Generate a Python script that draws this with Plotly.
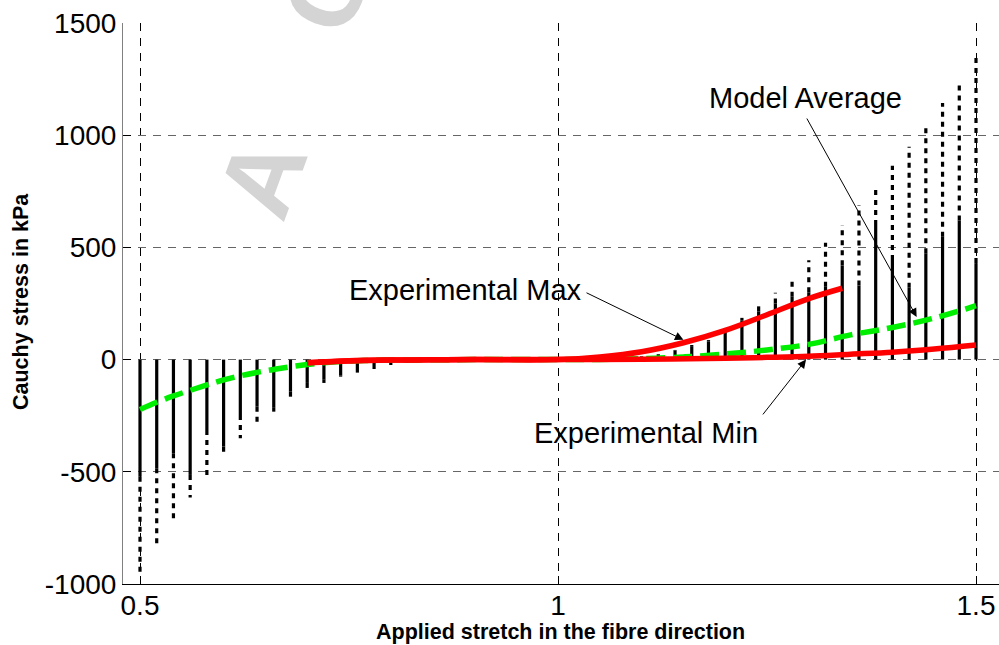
import plotly.graph_objects as go

# Applied fibre stretch at which the model population was sampled
stretch = [0.50, 0.52, 0.54, 0.56, 0.58, 0.60, 0.62, 0.64, 0.66, 0.68,
           0.70, 0.72, 0.74, 0.76, 0.78, 0.80, 0.82, 0.84, 0.86, 0.88,
           0.90, 0.92, 0.94, 0.96, 0.98, 1.00, 1.02, 1.04, 1.06, 1.08,
           1.10, 1.12, 1.14, 1.16, 1.18, 1.20, 1.22, 1.24, 1.26, 1.28,
           1.30, 1.32, 1.34, 1.36, 1.38, 1.40, 1.42, 1.44, 1.46, 1.48, 1.50]

# Edge of the densely populated part of each stress column (kPa)
stress_dense = [-522, -484, -417, -514, -314, -388, -247, -210, -215, -143,
                -104, -90, -70, -58, -42, -24, -13, -7, -4, -2,
                -1, -1, -0.5, -0.3, -0.1, 0, 1, 2, 4, 8,
                14, 22, 40, 60, 80, 125, 175, 215, 250, 280,
                300, 325, 420, 330, 600, 444, 320, 474, 548, 620, 430]

# Extreme model stress reached at each stretch (kPa)
stress_extreme = [-950, -831, -718, -615, -519, -433, -350, -291, -232, -183,
                  -143, -104, -76, -58, -42, -24, -13, -7, -4, -2,
                  -1, -1, -0.5, -0.3, -0.1, 0, 1, 2, 4, 8,
                  15, 25, 43, 65, 87, 141, 186, 238, 298, 368,
                  443, 521, 600, 689, 771, 864, 949, 1040, 1143, 1238, 1350]

# Model average curve
avg_stretch = [0.50, 0.52, 0.54, 0.56, 0.58, 0.60, 0.62, 0.64, 0.66, 0.68,
               0.70, 0.72, 0.74, 0.76, 0.78, 0.80, 0.85, 0.90, 1.00, 1.05,
               1.10, 1.15, 1.20, 1.25, 1.30, 1.35, 1.40, 1.45, 1.50]
avg_stress = [-222, -190, -162, -137, -113, -90, -72, -57, -44, -32,
              -22, -14, -9, -5, -3, -2, -1, 0, 0, 1,
              4, 12, 25, 43, 68, 110, 143, 185, 240]

# Experimental envelope
max_stretch = [0.70, 0.75, 0.80, 0.85, 0.90, 1.00, 1.05, 1.10, 1.15, 1.20,
               1.25, 1.30, 1.34]
max_stress = [-14, -5, -2, -1, 0, 0, 12, 35, 75, 130, 200, 272, 318]
min_stretch = [0.70, 0.75, 0.80, 0.85, 0.90, 1.00, 1.10, 1.20, 1.25, 1.30,
               1.35, 1.40, 1.45, 1.50]
min_stress = [-14, -6, -2, -1, 0, 0, 2, 6, 10, 15, 24, 33, 47, 65]

x_ticks = [0.5, 1.0, 1.5]
x_tick_text = ["0.5", "1", "1.5"]
y_ticks = [-1000, -500, 0, 500, 1000, 1500]
y_tick_text = ["-1000", "-500", "0", "500", "1000", "1500"]

FONT = "Liberation Sans, Arial, Helvetica, sans-serif"

# Build the stress columns: a solid dense core and a sparse dotted tail
dense_x, dense_y, tail_x, tail_y = [], [], [], []
for s, d, e in zip(stretch, stress_dense, stress_extreme):
    dense_x += [s, s, None]
    dense_y += [0, d, None]
    if abs(e) > abs(d):
        tail_x += [s, s, None]
        tail_y += [d, e, None]

fig = go.Figure()

fig.add_trace(go.Scatter(x=dense_x, y=dense_y, mode="lines",
                         line=dict(color="black", width=3.2),
                         showlegend=False, hoverinfo="skip"))
fig.add_trace(go.Scatter(x=tail_x, y=tail_y, mode="lines",
                         line=dict(color="black", width=3.2, dash="5px,5px"),
                         showlegend=False, hoverinfo="skip"))
fig.add_trace(go.Scatter(x=avg_stretch, y=avg_stress, mode="lines",
                         line=dict(color="#00ee00", width=5.5, dash="19px,8px"),
                         line_shape="spline", showlegend=False))
fig.add_trace(go.Scatter(x=max_stretch, y=max_stress, mode="lines",
                         line=dict(color="#ff0000", width=5.5),
                         line_shape="spline", showlegend=False))
fig.add_trace(go.Scatter(x=min_stretch, y=min_stress, mode="lines",
                         line=dict(color="#ff0000", width=5.5),
                         line_shape="spline", showlegend=False))

annotations = []

# Faint diagonal watermark letters
for letter, px, py in [("A", 0.159, 0.725), ("C", 0.232, 1.055)]:
    annotations.append(dict(text="<b>" + letter + "</b>", x=px, y=py,
                            xref="paper", yref="paper",
                            showarrow=False, textangle=-70,
                            font=dict(family=FONT, size=104, color="#d4d4d4"),
                            xanchor="center", yanchor="middle"))

# Curve labels
labels = [("Experimental Max", 0.889, 310), ("Model Average", 1.2955, 1165),
          ("Experimental Min", 1.1053, -327)]
for txt, lx, ly in labels:
    annotations.append(dict(text=txt, x=lx, y=ly, xref="x", yref="y",
                            showarrow=False, xanchor="center", yanchor="middle",
                            font=dict(family=FONT, size=29, color="black")))

# Leader arrows: (tip x, tip y, tail x, tail y)
arrows = [(1.150, 88, 1.0323, 301), (1.429, 190, 1.2967, 1081),
          (1.2967, 0, 1.2437, -251)]
for tx, ty, ax, ay in arrows:
    annotations.append(dict(x=tx, y=ty, ax=ax, ay=ay, xref="x", yref="y",
                            axref="x", ayref="y", text="", showarrow=True,
                            arrowhead=2, arrowsize=1.7, arrowwidth=1,
                            arrowcolor="black", standoff=0, startstandoff=0))

# Axis titles
annotations.append(dict(text="<b>Applied stretch in the fibre direction</b>",
                        x=(560 - 123) / 876, y=-(632 - 584) / 561,
                        xref="paper", yref="paper",
                        showarrow=False, font=dict(family=FONT, size=21.5, color="black"),
                        xanchor="center", yanchor="middle"))
annotations.append(dict(text="<b>Cauchy stress in kPa</b>",
                        x=-(123 - 21) / 876, y=1 - (302 - 23) / 561,
                        xref="paper", yref="paper", textangle=-90,
                        showarrow=False, font=dict(family=FONT, size=21.5, color="black"),
                        xanchor="center", yanchor="middle"))

fig.update_layout(
    width=999, height=645,
    margin=dict(l=123, r=0, t=23, b=61),
    paper_bgcolor="white", plot_bgcolor="white",
    annotations=annotations,
    font=dict(family=FONT, size=28, color="black"),
)

fig.update_xaxes(range=[0.47967, 1.52751], tickvals=x_ticks, ticktext=x_tick_text,
                 showgrid=True, gridcolor="black", gridwidth=1, griddash="8px,7px",
                 showline=True, linecolor="black", linewidth=1,
                 ticks="inside", ticklen=8, tickcolor="black",
                 zeroline=False, tickfont=dict(size=28), ticklabelstandoff=-4)
fig.update_yaxes(range=[-1000, 1500], tickvals=y_ticks, ticktext=y_tick_text,
                 showgrid=True, gridcolor="#666666", gridwidth=1, griddash="8px,7px",
                 showline=True, linecolor="#808080", linewidth=1,
                 ticks="inside", ticklen=8, tickcolor="black",
                 zeroline=False, tickfont=dict(size=28), ticklabelstandoff=0)

fig.write_html("out.html")
